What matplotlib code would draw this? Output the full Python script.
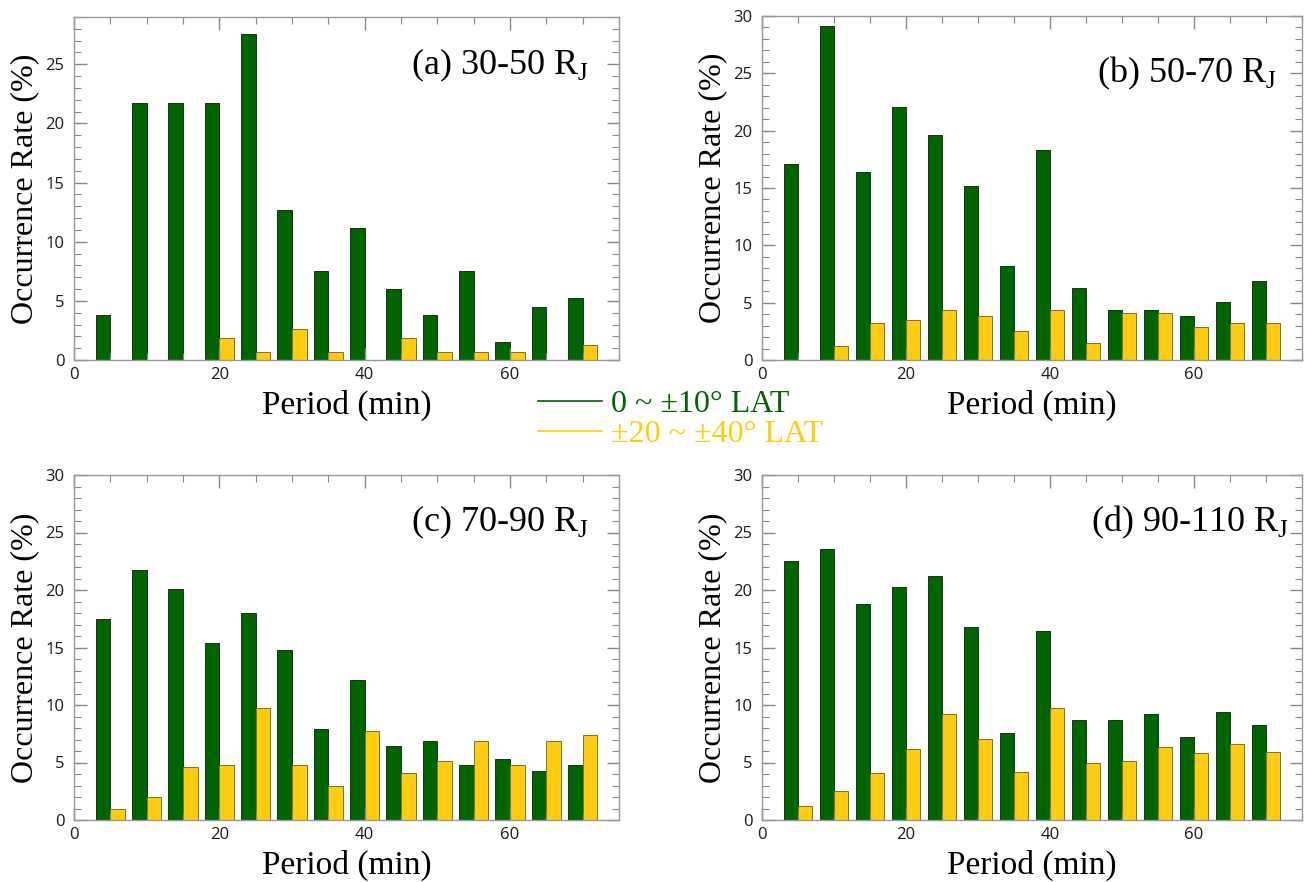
import matplotlib
matplotlib.use('Agg')
import matplotlib.pyplot as plt
import numpy as np
from matplotlib.lines import Line2D
from matplotlib.ticker import MultipleLocator

plt.rcParams['mathtext.fontset'] = 'custom'
plt.rcParams['mathtext.rm'] = 'Liberation Serif'

periods = [5, 10, 15, 20, 25, 30, 35, 40, 45, 50, 55, 60, 65, 70]

# (a) 30-50 RJ
low_a = [3.8, 21.7, 21.7, 21.7, 27.6, 12.7, 7.5, 11.2, 6.0, 3.8, 7.5, 1.5, 4.5, 5.2]
high_a = [0, 0, 0, 1.9, 0.7, 2.6, 0.7, 0, 1.9, 0.7, 0.7, 0.7, 0, 1.3]
# (b) 50-70 RJ
low_b = [17.1, 29.1, 16.4, 22.1, 19.6, 15.2, 8.2, 18.3, 6.3, 4.4, 4.4, 3.8, 5.05, 6.9]
high_b = [0, 1.2, 3.2, 3.5, 4.4, 3.8, 2.5, 4.4, 1.5, 4.07, 4.07, 2.85, 3.2, 3.2]
# (c) 70-90 RJ
low_c = [17.5, 21.7, 20.1, 15.4, 18.0, 14.8, 7.9, 12.2, 6.4, 6.9, 4.75, 5.3, 4.26, 4.75]
high_c = [0.93, 1.97, 4.6, 4.8, 9.74, 4.8, 3.0, 7.77, 4.1, 5.1, 6.9, 4.8, 6.9, 7.4]
# (d) 90-110 RJ
low_d = [22.5, 23.6, 18.8, 20.3, 21.2, 16.8, 7.57, 16.4, 8.67, 8.67, 9.25, 7.2, 9.4, 8.3]
high_d = [1.2, 2.55, 4.06, 6.14, 9.25, 7.04, 4.2, 9.77, 4.93, 5.13, 6.35, 5.8, 6.6, 5.9]

titles = ['(a) 30-50 R$_{\\rm J}$', '(b) 50-70 R$_{\\rm J}$',
          '(c) 70-90 R$_{\\rm J}$', '(d) 90-110 R$_{\\rm J}$']
legend_labels = ['0 ~ \u00b110\u00b0 LAT', '\u00b120 ~ \u00b140\u00b0 LAT']

GREEN = '#006400'
YELLOW = '#ffcc11'
W, H = 1314, 882
BAR_W = 2.0


def px_axes(fig, left, right, top, bottom):
    return fig.add_axes([left / W, 1 - bottom / H, (right - left) / W, (bottom - top) / H])


fig = plt.figure(figsize=(13.14, 8.82), dpi=100)
boxes = [(74, 619, 17, 360), (762, 1302, 16, 360),
         (74, 619, 475, 820), (762, 1302, 475, 820)]
data = [(low_a, high_a), (low_b, high_b), (low_c, high_c), (low_d, high_d)]
title_pos = [(0.945, 0.86), (0.954, 0.834), (0.945, 0.864), (0.977, 0.864)]

x = np.array(periods, dtype=float)
for i, (box, (low, high)) in enumerate(zip(boxes, data)):
    ax = px_axes(fig, *box)
    ax.bar(x - BAR_W / 2, low, width=BAR_W, color=GREEN,
           edgecolor='#173017', linewidth=0.7)
    ax.bar(x + BAR_W / 2, high, width=BAR_W, color=YELLOW,
           edgecolor='#80702e', linewidth=0.7)
    ax.set_xlim(0, 75)
    ax.set_ylim(0, 29 if i == 0 else 30)
    ax.xaxis.set_major_locator(MultipleLocator(20))
    ax.xaxis.set_minor_locator(MultipleLocator(5))
    ax.yaxis.set_major_locator(MultipleLocator(5))
    ax.yaxis.set_minor_locator(MultipleLocator(1))
    ax.tick_params(which='both', direction='in', top=True, right=True,
                   color='#888888')
    ax.tick_params(which='major', length=9, width=1.0)
    ax.tick_params(which='minor', length=5, width=0.8)
    ax.tick_params(labelsize=12, labelcolor='#1a1a1a')
    ax.tick_params(axis='y', pad=7)
    ax.tick_params(axis='x', pad=5)
    for lab in ax.get_xticklabels() + ax.get_yticklabels():
        lab.set_fontfamily('Open Sans')
        lab.set_fontweight('medium')
    for s in ax.spines.values():
        s.set_color('#999999')
        s.set_linewidth(1.0)
    ax.set_xlabel('Period (min)', family='Liberation Serif', fontsize=24, labelpad=5)
    ax.set_ylabel('Occurrence Rate (%)', family='Liberation Serif', fontsize=23, labelpad=4)
    tx, ty = title_pos[i]
    ax.text(tx, ty, titles[i], transform=ax.transAxes, ha='right', va='center',
            family='Liberation Serif', fontsize=26)

handles = [Line2D([], [], color=GREEN, lw=1.2), Line2D([], [], color=YELLOW, lw=1.2)]
leg = fig.legend(handles, legend_labels, loc='upper left',
                 bbox_to_anchor=(538 / W, 1 - 390 / H), frameon=False,
                 handlelength=2.0, handletextpad=0.3, labelspacing=0.02,
                 borderpad=0, borderaxespad=0,
                 prop={'family': 'Liberation Serif', 'size': 23})
for t, c in zip(leg.get_texts(), [GREEN, YELLOW]):
    t.set_color(c)

fig.savefig('out.png', dpi=100)
